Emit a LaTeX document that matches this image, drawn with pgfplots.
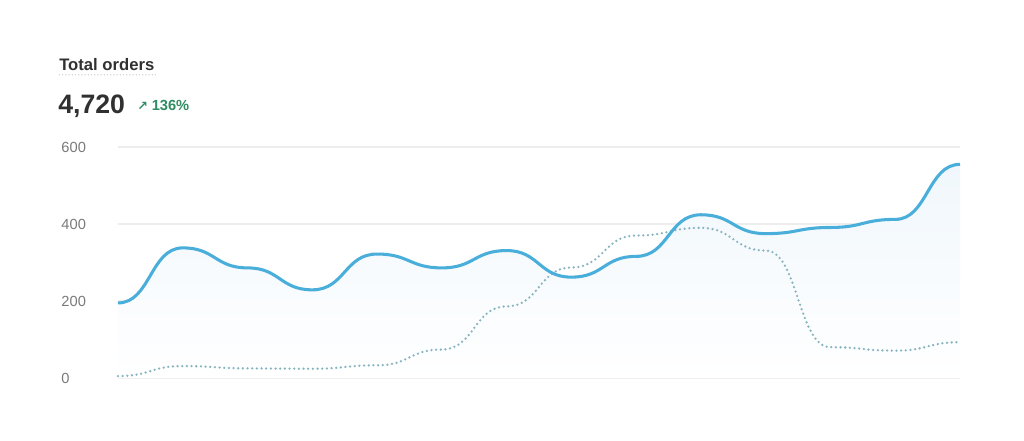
\documentclass[border=0pt]{standalone}
\usepackage{pgfplots}
\pgfplotsset{compat=1.18}
\usepackage{fontspec}
\setmainfont{Liberation Sans}
\newfontfamily\symfont{DejaVu Sans}

\definecolor{orderline}{HTML}{4AAEDB}
\definecolor{prevline}{HTML}{88B4C0}
\definecolor{gridgray}{HTML}{EDEDED}
\definecolor{ticktext}{HTML}{7A7A7A}
\definecolor{titletext}{HTML}{303030}
\definecolor{upgreen}{HTML}{2E8B62}
\definecolor{fillblue}{HTML}{F0F7FC}

% curve with a flat tangent at every point (like d3 curveBumpX)
\makeatletter
\def\pgfplothandlerbumpx{%
  \def\pgf@plotstreamstart{%
    \global\let\pgf@plotstreampoint=\bumpx@first
    \global\let\pgf@plotstreamspecial=\pgfutil@gobble
    \global\let\pgf@plotstreamend=\relax
  }%
}
\def\bumpx@first#1{%
  \pgf@process{#1}%
  \xdef\bumpx@lx{\the\pgf@x}\xdef\bumpx@ly{\the\pgf@y}%
  \pgf@plot@first@action{\pgfqpoint{\bumpx@lx}{\bumpx@ly}}%
  \global\let\pgf@plotstreampoint=\bumpx@next
}
\def\bumpx@next#1{%
  \pgf@process{#1}%
  \edef\bumpx@nx{\the\pgf@x}\edef\bumpx@ny{\the\pgf@y}%
  \pgf@xa=\bumpx@lx\relax
  \advance\pgf@xa by \pgf@x
  \divide\pgf@xa by 2
  \edef\bumpx@mx{\the\pgf@xa}%
  \pgfpathcurveto{\pgfqpoint{\bumpx@mx}{\bumpx@ly}}{\pgfqpoint{\bumpx@mx}{\bumpx@ny}}{\pgfqpoint{\bumpx@nx}{\bumpx@ny}}%
  \xdef\bumpx@lx{\bumpx@nx}\xdef\bumpx@ly{\bumpx@ny}%
}
\tikzset{bump x/.code={\let\tikz@plot@handler=\pgfplothandlerbumpx}}
\makeatother

% orders per period, this range and the previous one
\pgfplotstableread{
i  cur prev
0  195 5
1  338 31
2  286 25
3  229 24
4  322 33
5  286 74
6  331 186
7  262 287
8  316 370
9  424 390
10 375 331
11 391 80
12 412 71
13 555 93
}\orders

\begin{document}
\begin{tikzpicture}[x=0.75pt, y=0.75pt]
\path[use as bounding box] (0,0) rectangle (1024,440);

\node[anchor=base west, inner sep=0pt, font=\fontsize{12.5}{14}\selectfont\bfseries, text=titletext] at (59,369.3) {Total orders};
\draw[gray!45, line width=1pt, line cap=round, dash pattern=on 0pt off 2.4pt] (59.5,365.2) -- (157,365.2);
\node[anchor=base west, inner sep=0pt, font=\fontsize{20}{24}\selectfont\bfseries, text=titletext] at (58,326) {4,720};
\node[anchor=base west, inner sep=0pt, font=\fontsize{9.5}{11}\selectfont\bfseries\symfont, text=upgreen] at (137,329.5) {↗};
\node[anchor=base west, inner sep=0pt, font=\fontsize{11}{13}\selectfont\bfseries, text=upgreen] at (151.5,329.3) {136\%};

\begin{axis}[
    at={(88.5pt,46.5pt)}, anchor=south west,
    scale only axis,
    width=631.5pt, height=173.25pt,
    xmin=0, xmax=13,
    ymin=0, ymax=600,
    ytick={0,200,400,600},
    xtick=\empty,
    axis line style={draw=none},
    tick style={draw=none},
    ymajorgrids=true,
    major grid style={gridgray, line width=0.8pt},
    yticklabel style={anchor=west, inner sep=0pt, xshift=-42.6pt, text=ticktext, font=\fontsize{11}{13}\selectfont},
    /pgf/number format/assume math mode=true,
    clip=false,
]
\addplot[draw=none, top color=fillblue, bottom color=white, bump x] table[x=i, y=cur] {\orders} \closedcycle;
\addplot[prevline, line width=1.9pt, line cap=round, dash pattern=on 0pt off 3.5pt, bump x] table[x=i, y=prev] {\orders};
\addplot[orderline, line width=2.3pt, bump x] table[x=i, y=cur] {\orders};
\end{axis}
\end{tikzpicture}
\end{document}
